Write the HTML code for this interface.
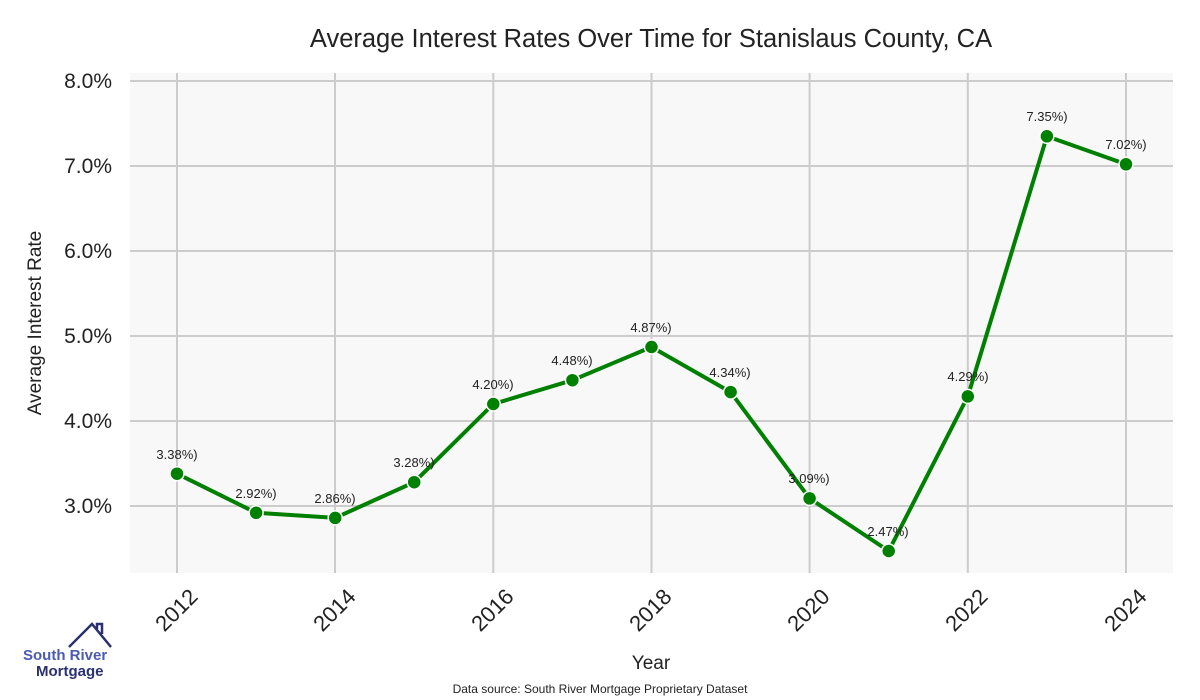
<!DOCTYPE html>
<html><head><meta charset="utf-8"><style>body{margin:0;background:#fff}svg{display:block}</style></head><body>
<svg width="1200" height="700" xmlns="http://www.w3.org/2000/svg" font-family="Liberation Sans, sans-serif">
<rect x="130" y="73" width="1043" height="500" fill="#f8f8f8"/>
<g stroke="#cccccc" stroke-width="2">
<line x1="130" x2="1173" y1="81" y2="81"/><line x1="130" x2="1173" y1="166" y2="166"/><line x1="130" x2="1173" y1="251" y2="251"/><line x1="130" x2="1173" y1="336" y2="336"/><line x1="130" x2="1173" y1="421" y2="421"/><line x1="130" x2="1173" y1="506" y2="506"/>
<line x1="177" x2="177" y1="73" y2="573"/><line x1="335" x2="335" y1="73" y2="573"/><line x1="493.3" x2="493.3" y1="73" y2="573"/><line x1="651.5" x2="651.5" y1="73" y2="573"/><line x1="809.6" x2="809.6" y1="73" y2="573"/><line x1="967.8" x2="967.8" y1="73" y2="573"/><line x1="1126" x2="1126" y1="73" y2="573"/>
</g>
<text x="651" y="47" text-anchor="middle" font-size="25.5" fill="#222">Average Interest Rates Over Time for Stanislaus County, CA</text>
<g font-size="21" fill="#222" text-anchor="end">
<text x="112" y="88">8.0%</text><text x="112" y="173">7.0%</text><text x="112" y="258">6.0%</text><text x="112" y="343">5.0%</text><text x="112" y="428">4.0%</text><text x="112" y="513">3.0%</text>
</g>
<text transform="translate(41,323) rotate(-90)" text-anchor="middle" font-size="19" fill="#222">Average Interest Rate</text>
<g font-size="22" fill="#222" text-anchor="end">
<text transform="translate(199,598) rotate(-45)">2012</text>
<text transform="translate(357,598) rotate(-45)">2014</text>
<text transform="translate(515,598) rotate(-45)">2016</text>
<text transform="translate(673,598) rotate(-45)">2018</text>
<text transform="translate(831,598) rotate(-45)">2020</text>
<text transform="translate(989,598) rotate(-45)">2022</text>
<text transform="translate(1148,598) rotate(-45)">2024</text>
</g>
<text x="651" y="669" text-anchor="middle" font-size="19" fill="#222">Year</text>
<text x="600" y="693" text-anchor="middle" font-size="12" fill="#222">Data source: South River Mortgage Proprietary Dataset</text>
<polyline fill="none" stroke="#008000" stroke-width="4" stroke-linejoin="round" points="177,473.7 256.1,512.8 335.2,517.9 414.2,482.2 493.3,404 572.4,380.2 651.5,347 730.6,392.1 809.6,498.4 888.7,551 967.8,396.4 1046.9,136.3 1126,164.3"/>
<g fill="#008000" stroke="#fff" stroke-width="1.5">
<circle cx="177" cy="473.7" r="7"/><circle cx="256.1" cy="512.8" r="7"/><circle cx="335.2" cy="517.9" r="7"/><circle cx="414.2" cy="482.2" r="7"/><circle cx="493.3" cy="404" r="7"/><circle cx="572.4" cy="380.2" r="7"/><circle cx="651.5" cy="347" r="7"/><circle cx="730.6" cy="392.1" r="7"/><circle cx="809.6" cy="498.4" r="7"/><circle cx="888.7" cy="551" r="7"/><circle cx="967.8" cy="396.4" r="7"/><circle cx="1046.9" cy="136.3" r="7"/><circle cx="1126" cy="164.3" r="7"/>
</g>
<g font-size="13" fill="#222" text-anchor="middle">
<text x="177" y="459">3.38%)</text><text x="256" y="498">2.92%)</text><text x="335" y="503">2.86%)</text><text x="414" y="467">3.28%)</text><text x="493" y="389">4.20%)</text><text x="572" y="365">4.48%)</text><text x="651" y="332">4.87%)</text><text x="730" y="377">4.34%)</text><text x="809" y="483">3.09%)</text><text x="888" y="536">2.47%)</text><text x="968" y="381">4.29%)</text><text x="1047" y="121">7.35%)</text><text x="1126" y="149">7.02%)</text>
</g>
<polyline points="69,647 92,624 111,647" fill="none" stroke="#2a3170" stroke-width="2.5"/>
<polyline points="97,629 97,624 102,624 102,634" fill="none" stroke="#2a3170" stroke-width="2.5"/>
<text x="23" y="660" font-size="15" font-weight="bold" fill="#4a5bb0">South River</text>
<text x="36" y="676" font-size="15" font-weight="bold" fill="#2a3170">Mortgage</text>
</svg>
</body></html>
